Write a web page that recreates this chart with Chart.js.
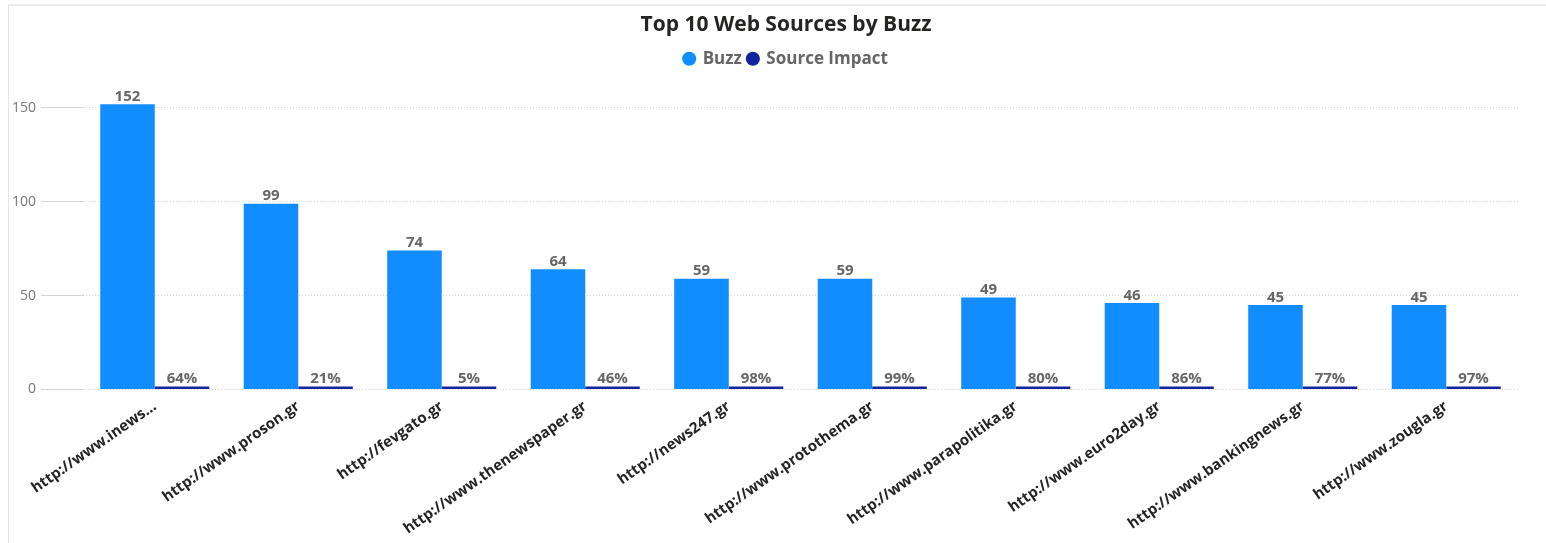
<!DOCTYPE html>
<html>
<head>
<meta charset="utf-8">
<script src="https://cdn.jsdelivr.net/npm/chart.js@4/dist/chart.umd.min.js"></script>
<style>
    html, body { margin: 0; padding: 0; background: #fff; }
    #wrap { position: relative; width: 1546px; height: 543px; }
    #frame { position: absolute; left: 8px; top: 4px; right: 0; bottom: 0; border-left: 1px solid #e6e6e6; border-top: 2px solid #ececec; }
    canvas { position: absolute; left: 0; top: 0; }
</style>
</head>
<body>
<div id="wrap">
    <div id="frame"></div>
    <canvas id="buzz-chart" width="1546" height="543"></canvas>
</div>
<script>
// Fuentes web (etiquetas del eje X)
const sources = [
    "http://www.inews...",
    "http://www.proson.gr",
    "http://fevgato.gr",
    "http://www.thenewspaper.gr",
    "http://news247.gr",
    "http://www.protothema.gr",
    "http://www.parapolitika.gr",
    "http://www.euro2day.gr",
    "http://www.bankingnews.gr",
    "http://www.zougla.gr"
];

// Buzz por fuente
const buzzValues = [152, 99, 74, 64, 59, 59, 49, 46, 45, 45];

// Source Impact en porcentaje
const impactPercent = [64, 21, 5, 46, 98, 99, 80, 86, 77, 97];

// Marcas del eje Y
const yTicks = [0, 50, 100, 150];

const fontFamily = "'Open Sans', 'Noto Sans', sans-serif";

// Plugin sencillo para escribir los valores encima de cada barra
const valueLabels = {
    id: 'valueLabels',
    afterDatasetsDraw(chart) {
        const ctx = chart.ctx;
        ctx.save();
        ctx.font = `bold 15px ${fontFamily}`;
        ctx.fillStyle = '#666666';
        ctx.textAlign = 'center';
        ctx.textBaseline = 'bottom';
        chart.data.datasets.forEach((ds, i) => {
            chart.getDatasetMeta(i).data.forEach((bar, j) => {
                const text = i === 0 ? String(buzzValues[j]) : `${impactPercent[j]}%`;
                ctx.fillText(text, bar.x, bar.y);
            });
        });
        ctx.restore();
    }
};

// Más espacio bajo la leyenda y título/leyenda un poco a la derecha (como en el original)
const headerTweaks = {
    id: 'headerTweaks',
    beforeInit(chart) {
        const originalFit = chart.legend.fit;
        chart.legend.fit = function () {
            originalFit.bind(chart.legend)();
            this.height += 12;
        };
        [chart.titleBlock, chart.legend].forEach(box => {
            const originalDraw = box.draw;
            box.draw = function () {
                this.ctx.save();
                this.ctx.translate(27, 0);
                originalDraw.apply(this, arguments);
                this.ctx.restore();
            };
        });
    }
};

const ctx = document.getElementById('buzz-chart').getContext('2d');

new Chart(ctx, {
    type: 'bar',
    data: {
        labels: sources,
        datasets: [
            {
                label: 'Buzz',
                data: buzzValues,
                backgroundColor: '#118DFF',
                barPercentage: 1,
                categoryPercentage: 0.76
            },
            {
                label: 'Source Impact',
                data: impactPercent.map(p => p / 100),
                backgroundColor: '#12239E',
                barPercentage: 1,
                categoryPercentage: 0.76,
                minBarLength: 3
            }
        ]
    },
    options: {
        responsive: false,
        animation: false,
        layout: {
            padding: { left: 0, right: 28, top: 2, bottom: 5 }
        },
        plugins: {
            title: {
                display: true,
                text: 'Top 10 Web Sources by Buzz',
                color: '#252423',
                font: { family: fontFamily, size: 21, weight: 'bold' },
                padding: { top: 10, bottom: 7 }
            },
            legend: {
                display: true,
                labels: {
                    usePointStyle: true,
                    pointStyle: 'circle',
                    boxWidth: 10,
                    boxHeight: 10,
                    padding: 6,
                    color: '#666666',
                    font: { family: fontFamily, size: 17, weight: 'bold' }
                }
            },
            tooltip: { enabled: false }
        },
        scales: {
            x: {
                grid: { display: false },
                border: { display: false },
                ticks: {
                    color: '#252423',
                    minRotation: 35,
                    maxRotation: 35,
                    autoSkip: false,
                    padding: 0,
                    font: { family: fontFamily, size: 15, weight: 'bold' }
                }
            },
            y: {
                min: 0,
                max: 160,
                grid: {
                    color: '#d4d4d4',
                    lineWidth: 1,
                    drawTicks: true,
                    tickLength: 42,
                    tickColor: '#d4d4d4'
                },
                border: { display: false, dash: [1, 2] },
                afterBuildTicks: function (scale) {
                    scale.ticks = yTicks.map(v => ({ value: v }));
                },
                afterFit: function (scale) {
                    scale.width = 83;
                },
                ticks: {
                    color: '#777777',
                    padding: 5,
                    font: { family: fontFamily, size: 14 }
                }
            }
        }
    },
    plugins: [valueLabels, headerTweaks]
});
</script>
</body>
</html>
